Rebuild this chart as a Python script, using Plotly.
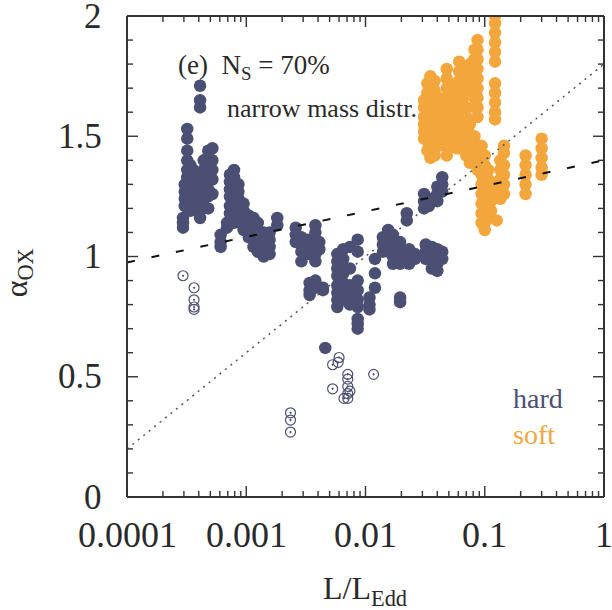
import math
import plotly.graph_objects as go

# ---------------- data ----------------
# hard sources, filled circles: columns of (L/LEdd, [alpha_ox values])
hard_columns = [
    (2.95e-4, [1.16, 1.14, 1.12]),
    (3.05e-4, [1.30, 1.27, 1.24, 1.21]),
    (3.2e-4, [1.53, 1.49, 1.44, 1.40, 1.36, 1.33, 1.30, 1.26, 1.22]),
    (3.4e-4, [1.38, 1.35, 1.32, 1.28, 1.25, 1.22, 1.19]),
    (3.6e-4, [1.36, 1.33, 1.30, 1.27, 1.24]),
    (4.1e-4, [1.71, 1.65, 1.62, 1.34, 1.30, 1.26, 1.22, 1.19, 1.16]),
    (4.4e-4, [1.40, 1.36, 1.32, 1.28, 1.24, 1.20]),
    (4.8e-4, [1.44, 1.41, 1.38, 1.35, 1.32, 1.28, 1.25, 1.20]),
    (5.2e-4, [1.45, 1.40, 1.36, 1.32, 1.26]),
    (6.1e-4, [1.09, 1.06, 1.04]),
    (6.9e-4, [1.14, 1.12]),
    (7.3e-4, [1.34, 1.31, 1.28, 1.25, 1.21, 1.18]),
    (7.9e-4, [1.36, 1.33, 1.30, 1.27, 1.24, 1.21, 1.17, 1.14]),
    (8.6e-4, [1.30, 1.27, 1.24, 1.20, 1.17]),
    (9.5e-4, [1.22, 1.19, 1.16, 1.13, 1.11]),
    (1.05e-3, [1.17, 1.14, 1.11, 1.08]),
    (1.15e-3, [1.16, 1.13, 1.10, 1.07, 1.04]),
    (1.25e-3, [1.14, 1.11, 1.08, 1.05, 1.02]),
    (1.4e-3, [1.10, 1.06, 1.03, 1.00]),
    (1.57e-3, [1.10, 1.07, 1.04, 1.01]),
    (1.82e-3, [1.16, 1.13]),
    (2.6e-3, [1.12, 1.09, 1.06]),
    (2.9e-3, [1.08, 1.05, 1.02, 0.98]),
    (3.3e-3, [1.07, 1.04, 1.01]),
    (3.8e-3, [1.13, 1.10, 1.07, 1.04, 1.01, 0.98]),
    (4.1e-3, [1.06, 1.03]),
    (3.4e-3, [0.89, 0.86, 0.84]),
    (3.8e-3, [0.90, 0.87]),
    (4.4e-3, [0.87, 0.86]),
    (4.6e-3, [0.62]),
    (5.8e-3, [1.01, 0.98, 0.95, 0.92, 0.88, 0.85, 0.82, 0.79]),
    (6.5e-3, [1.03, 0.99, 0.96, 0.93, 0.89, 0.86, 0.82]),
    (7.4e-3, [1.04, 0.95, 0.88, 0.84, 0.80]),
    (8.6e-3, [1.07, 1.02, 0.90, 0.86, 0.82, 0.79, 0.74, 0.72, 0.70]),
    (0.0108, [0.83, 0.80, 0.78]),
    (0.0120, [0.99, 0.93, 0.87]),
    (0.0140, [1.08, 1.05, 1.02]),
    (0.0155, [1.11, 1.08, 1.05, 1.02]),
    (0.0170, [1.09, 1.06, 1.03, 1.00, 0.97]),
    (0.0195, [1.06, 1.03, 1.00, 0.97, 0.83, 0.81]),
    (0.0222, [1.18, 1.15]),
    (0.0232, [1.03, 1.00, 0.97]),
    (0.0260, [1.01, 0.99]),
    (0.031, [1.26, 1.23, 1.20]),
    (0.032, [1.05, 1.02, 0.99]),
    (0.034, [1.24, 1.21]),
    (0.036, [1.04, 1.01, 0.98, 0.95]),
    (0.040, [1.29, 1.26, 1.23, 1.03, 1.00, 0.97, 0.94]),
    (0.044, [1.33, 1.30, 1.27, 1.02, 0.99]),
]

# hard sources, open circles
open_x = [2.95e-4, 3.65e-4, 3.65e-4, 3.65e-4, 3.65e-4,
          2.35e-3, 2.35e-3, 2.35e-3,
          5.3e-3, 6.0e-3, 5.9e-3, 5.3e-3, 7.1e-3, 7.1e-3, 7.1e-3, 7.1e-3,
          7.1e-3, 6.6e-3, 7.4e-3, 0.0117]
open_y = [0.92, 0.87, 0.82, 0.79, 0.78,
          0.35, 0.32, 0.27,
          0.55, 0.58, 0.56, 0.45, 0.51, 0.49, 0.46, 0.43,
          0.41, 0.41, 0.44, 0.51]

# soft sources
soft_columns = [
    (0.031, [1.65, 1.62, 1.58, 1.55, 1.52, 1.49]),
    (0.033, [1.72, 1.68, 1.64, 1.60, 1.56, 1.52, 1.48, 1.44]),
    (0.035, [1.75, 1.71, 1.67, 1.63, 1.59, 1.55, 1.51, 1.47, 1.43, 1.41]),
    (0.038, [1.73, 1.69, 1.65, 1.61, 1.57, 1.53, 1.49, 1.45, 1.42]),
    (0.041, [1.66, 1.62, 1.58, 1.54, 1.50, 1.46]),
    (0.044, [1.64, 1.60, 1.56, 1.52, 1.48]),
    (0.048, [1.78, 1.74, 1.70, 1.66, 1.62, 1.58, 1.54, 1.50, 1.46, 1.42]),
    (0.052, [1.68, 1.64, 1.60]),
    (0.058, [1.72, 1.68, 1.64, 1.60, 1.56, 1.52, 1.48, 1.45]),
    (0.061, [1.81, 1.77, 1.73, 1.69, 1.65, 1.61, 1.57, 1.53, 1.49, 1.45]),
    (0.066, [1.70, 1.66, 1.62, 1.58, 1.54, 1.50, 1.46]),
    (0.070, [1.78, 1.74, 1.70, 1.62, 1.58, 1.54, 1.50, 1.46, 1.42]),
    (0.075, [1.80, 1.76, 1.72, 1.68, 1.55, 1.51, 1.47, 1.43, 1.39]),
    (0.082, [1.86, 1.82, 1.78, 1.74, 1.70, 1.66, 1.62, 1.50, 1.46, 1.42]),
    (0.087, [1.90, 1.86, 1.82, 1.78, 1.74, 1.70, 1.66, 1.62, 1.58, 1.40, 1.36]),
    (0.094, [1.46, 1.42, 1.38, 1.34, 1.30, 1.26, 1.22, 1.18, 1.14]),
    (0.100, [1.42, 1.38, 1.34, 1.30, 1.26, 1.22, 1.18, 1.14, 1.11]),
    (0.107, [1.36, 1.32, 1.28, 1.24, 1.20, 1.16]),
    (0.113, [1.31, 1.27, 1.23, 1.19]),
    (0.122, [2.00, 1.97, 1.93, 1.89, 1.85, 1.81, 1.72, 1.68, 1.64, 1.60, 1.57]),
    (0.126, [1.15]),
    (0.135, [1.40, 1.36, 1.32, 1.28, 1.24]),
    (0.145, [1.46, 1.43, 1.38, 1.34, 1.30, 1.26]),
    (0.22, [1.42, 1.38, 1.34, 1.30, 1.26]),
    (0.30, [1.49, 1.45, 1.41, 1.37, 1.34]),
]

# reference lines (end points)
fit_x = [1e-4, 1.0]
dashed_y = [0.975, 1.40]
dotted_y = [0.20, 1.80]

x_tickvals = [1e-4, 1e-3, 1e-2, 1e-1, 1]
x_ticktext = ["0.0001", "0.001", "0.01", "0.1", "1"]
y_tickvals = [0, 0.5, 1, 1.5, 2]
y_ticktext = ["0", "0.5", "1", "1.5", "2"]

# ---------------- build ----------------
hard_x = [c[0] for c in hard_columns for _ in c[1]]
hard_y = [v for c in hard_columns for v in c[1]]
soft_x = [c[0] for c in soft_columns for _ in c[1]]
soft_y = [v for c in soft_columns for v in c[1]]

HARD = "#4b4f73"
SOFT = "#f2a63c"
FONT = "Liberation Serif"
AX = "#333333"
TXT = "#2a2a2a"

W, H = 612, 610
ML, MR, MT, MB = 127, 8, 16, 113
PW, PH = W - ML - MR, H - MT - MB
XMIN, XMAX = -4, 0
YMIN, YMAX = 0, 2

fig = go.Figure()
fig.add_trace(go.Scatter(x=hard_x, y=hard_y, mode="markers",
                         marker=dict(size=12.5, color=HARD, line=dict(width=0)),
                         showlegend=False, hoverinfo="skip"))
fig.add_trace(go.Scatter(x=open_x, y=open_y, mode="markers",
                         marker=dict(size=10, symbol="circle-open-dot", color=HARD,
                                     line=dict(width=1.2, color=HARD)),
                         showlegend=False, hoverinfo="skip"))
fig.add_trace(go.Scatter(x=soft_x, y=soft_y, mode="markers",
                         marker=dict(size=12.5, color=SOFT, line=dict(width=0)),
                         showlegend=False, hoverinfo="skip"))
fig.add_trace(go.Scatter(x=fit_x, y=dotted_y, mode="lines",
                         line=dict(color="#555555", width=1.5, dash="2px,5px"),
                         showlegend=False, hoverinfo="skip"))
fig.add_trace(go.Scatter(x=fit_x, y=dashed_y, mode="lines",
                         line=dict(color="#111111", width=2, dash="8px,17px"),
                         showlegend=False, hoverinfo="skip"))


def seg(x0, y0, x1, y1, w=1.4):
    return dict(type="line", xref="paper", yref="paper", x0=x0, y0=y0, x1=x1, y1=y1,
                line=dict(color=AX, width=w), layer="above")


# ---- frame (four separate edges) and inside ticks on all sides ----
shapes = [seg(0, 0, 1, 0, 2), seg(0, 1, 1, 1, 2),
          seg(0, 0, 0, 1, 2), seg(1, 0, 1, 1, 2)]
maj, mnr = 11, 6

for e in range(XMIN, XMAX):
    for m in range(1, 10):
        f = (e + math.log10(m) - XMIN) / (XMAX - XMIN)
        h = (maj if m == 1 else mnr) / PH
        shapes += [seg(f, 0, f, h), seg(f, 1 - h, f, 1)]
for k in range(0, 21):
    f = k / 20
    w = (maj if k % 5 == 0 else mnr) / PW
    shapes += [seg(0, f, w, f), seg(1 - w, f, 1, f)]

fig.update_xaxes(type="log", range=[XMIN, XMAX], showticklabels=False,
                 ticks="", showline=False, showgrid=False, zeroline=False)
fig.update_yaxes(range=[YMIN, YMAX], showticklabels=False,
                 ticks="", showline=False, showgrid=False, zeroline=False)

ann = []
# tick labels drawn as annotations
for v, t in zip(x_tickvals, x_ticktext):
    f = (math.log10(v) - XMIN) / (XMAX - XMIN)
    ann.append(dict(x=f, y=-38 / PH, xref="paper", yref="paper",
                    xanchor="center", yanchor="middle", text=t,
                    font=dict(family=FONT, size=36, color=TXT)))
for v, t in zip(y_tickvals, y_ticktext):
    f = (v - YMIN) / (YMAX - YMIN)
    ann.append(dict(x=-23 / PW, y=f, xref="paper", yref="paper",
                    xanchor="right", yanchor="middle", text=t,
                    font=dict(family=FONT, size=35, color=TXT)))

ann += [
    dict(x=-3.588, y=1.79, xref="x", yref="y", xanchor="left", yanchor="middle",
         text="(e)  N<sub>S</sub> = 70%", font=dict(family=FONT, size=27, color=TXT)),
    dict(x=-3.176, y=1.617, xref="x", yref="y", xanchor="left", yanchor="middle",
         text="narrow mass distr.", font=dict(family=FONT, size=26, color=TXT)),
    dict(x=-0.78, y=0.41, xref="x", yref="y", xanchor="left", yanchor="middle",
         text="hard", font=dict(family=FONT, size=28, color=HARD)),
    dict(x=-0.78, y=0.26, xref="x", yref="y", xanchor="left", yanchor="middle",
         text="soft", font=dict(family=FONT, size=28, color=SOFT)),
    dict(x=-0.2285, y=0.465, xref="paper", yref="paper", xanchor="center", yanchor="middle",
         textangle=-90, text="α<sub>OX</sub>", font=dict(family=FONT, size=32, color=TXT)),
    dict(x=0.499, y=-0.1954, xref="paper", yref="paper", xanchor="center", yanchor="middle",
         text="L/L<sub>Edd</sub>", font=dict(family=FONT, size=32, color=TXT)),
]
for a in ann:
    a["showarrow"] = False

fig.update_layout(width=W, height=H,
                  margin=dict(l=ML, r=MR, t=MT, b=MB),
                  paper_bgcolor="white", plot_bgcolor="white",
                  annotations=ann, shapes=shapes, showlegend=False)

fig.write_html("out.html")
